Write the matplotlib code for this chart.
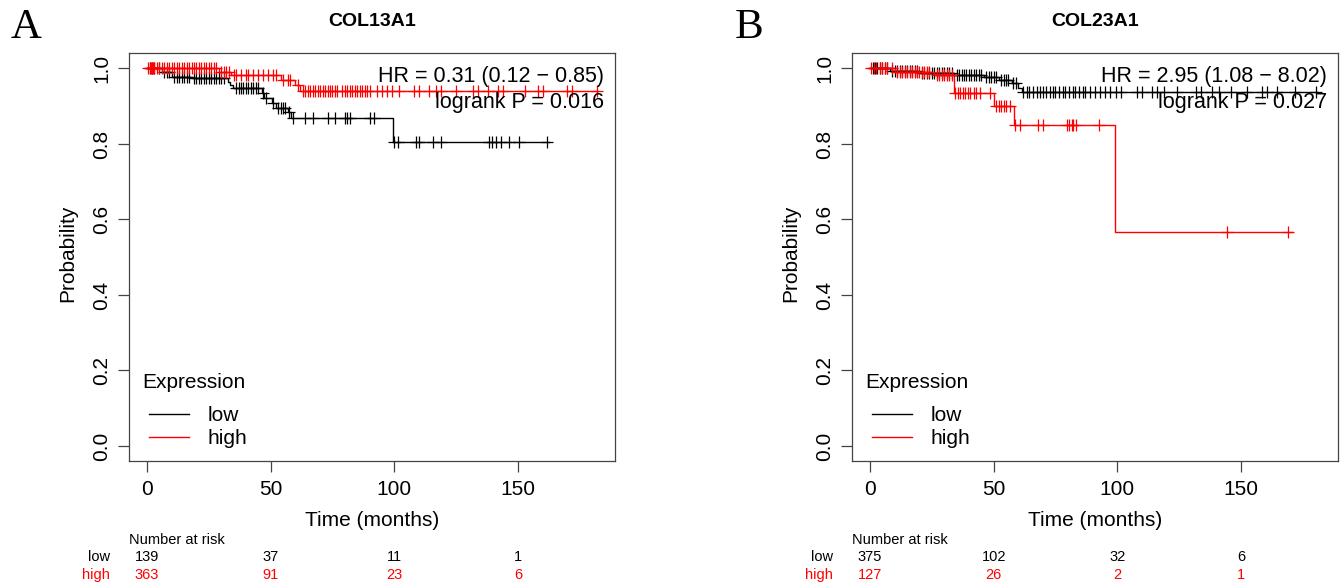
import numpy as np
import matplotlib
matplotlib.use("Agg")
import matplotlib.pyplot as plt
from matplotlib.transforms import blended_transform_factory

plt.rcParams['font.family'] = ['Liberation Sans', 'DejaVu Sans']

# ---- data ----
genes = ['COL13A1', 'COL23A1']
letters = ['A', 'B']
hr_text = ['HR = 0.31 (0.12 \u2212 0.85)', 'HR = 2.95 (1.08 \u2212 8.02)']
p_text = ['logrank P = 0.016', 'logrank P = 0.027']
risk_times = [0, 50, 100, 150]

# panel A, low expression (black)
a_low_t = [0, 6, 10, 18, 32.6, 33.5, 34.6, 46.3, 47.5, 50.4, 52, 57, 58.4, 99.3]
a_low_s = [1.0, 0.99, 0.978, 0.974, 0.965, 0.956, 0.948, 0.934, 0.921, 0.908, 0.896, 0.886, 0.869, 0.805]
a_low_end = 162.5
a_low_cens = [1, 2, 3, 5, 7, 8, 9, 11, 12, 13, 14, 15, 16, 17, 19, 20, 21, 22, 23, 24, 25, 26,
              27, 28, 29, 30, 31, 36, 37, 38, 39, 40, 41, 42, 43, 44, 45, 47, 48, 51, 53, 54,
              55, 56, 57.5, 59, 64, 67, 73, 76, 80, 81, 82, 90, 92, 100, 101.4, 109, 110,
              115.5, 119, 138.4, 139.6, 141, 143, 146.4, 150.4, 161.7]
a_low_risk = [139, 37, 11, 1]

# panel A, high expression (red)
a_high_t = [0, 29, 34, 54, 60, 62]
a_high_s = [1.0, 0.992, 0.983, 0.97, 0.956, 0.94]
a_high_end = 182.5
a_high_cens = [0.5, 1, 1.5, 2, 2.5, 3, 4, 5, 6, 7, 8, 9, 10, 11, 12, 13, 14, 15, 16, 17, 18,
               19, 20, 21, 22, 23, 24, 25, 26, 27, 28, 30, 31, 32, 33, 35, 36, 38, 40, 41, 43,
               45, 47, 49, 51, 52, 55, 57, 58, 61, 63, 64, 65, 66, 67, 68, 69, 70, 71, 72, 73,
               74, 75, 76, 77, 79, 80, 81, 82, 83, 84, 85, 86, 87, 88, 89, 90, 93, 95, 97, 99,
               102, 108, 110, 114, 117, 119, 125, 132, 134, 138, 142, 144, 153, 158, 160, 170,
               172, 182]
a_high_risk = [363, 91, 23, 6]

# panel B, low expression (black)
b_low_t = [0, 8, 20, 34, 46, 52, 57.4, 60, 61.4]
b_low_s = [1.0, 0.993, 0.988, 0.983, 0.977, 0.97, 0.961, 0.948, 0.937]
b_low_end = 181.4
b_low_cens = [1, 2, 3, 4, 5, 6, 7, 9, 10, 11, 12, 13, 14, 15, 16, 17, 18, 19, 21, 22, 23, 24,
              25, 26, 27, 28, 29, 30, 31, 32, 33, 35, 36, 37, 38, 39, 40, 41, 42, 43, 44, 45,
              47, 48, 49, 50, 51, 53, 54, 55, 56, 58, 59, 62, 63.4, 64.5, 66.1, 67.5, 68.8,
              70, 71, 72.8, 74, 75, 76.5, 78, 79, 80.5, 82, 83, 84.5, 86, 87, 89, 91, 93, 95,
              97, 99.6, 101.6, 108, 110, 114, 116, 119, 124.3, 131.9, 133.9, 138.4, 141, 146,
              152.5, 158.5, 160.5, 164.6, 172, 180.6]
b_low_risk = [375, 102, 32, 6]

# panel B, high expression (red)
b_high_t = [0, 10, 26, 33.8, 50.1, 58.2, 99.2]
b_high_s = [1.0, 0.991, 0.984, 0.936, 0.90, 0.85, 0.567]
b_high_end = 170.6
b_high_cens = [0.5, 1.5, 2.5, 4, 5, 6, 7, 9, 11, 12, 13, 14, 15, 16, 17, 18, 19, 20, 21, 22,
               23, 24, 27, 28, 29, 30, 31, 32, 33, 34.5, 35.5, 36.5, 37.5, 38.5, 39.5, 40.5,
               42, 43, 44.5, 48.5, 51, 52, 53, 54, 55, 56.5, 58.5, 60.7, 68.1, 70.1, 79.5,
               80.5, 81.5, 82.2, 83.5, 92.6, 144.5, 169]
b_high_risk = [127, 26, 2, 1]

panels = [
    dict(low=(a_low_t, a_low_s, a_low_end, a_low_cens, a_low_risk),
         high=(a_high_t, a_high_s, a_high_end, a_high_cens, a_high_risk)),
    dict(low=(b_low_t, b_low_s, b_low_end, b_low_cens, b_low_risk),
         high=(b_high_t, b_high_s, b_high_end, b_high_cens, b_high_risk)),
]

fig = plt.figure(figsize=(13.43, 5.83), dpi=100)
W, H = 1343.0, 583.0
lefts = [129, 852]
ax_w, ax_top, ax_bot = 486, 53.4, 461

frame_col = '#444444'

for i, p in enumerate(panels):
    ax = fig.add_axes([lefts[i] / W, 1 - ax_bot / H, ax_w / W, (ax_bot - ax_top) / H])
    handles = []
    for key, col in (('low', 'black'), ('high', 'red')):
        t, s, end, cens, risk = p[key]
        t = np.array(t, dtype=float)
        s = np.array(s, dtype=float)
        ln, = ax.step(np.r_[t, end], np.r_[s, s[-1]], where='post', color=col, lw=1.0,
                      label=key)
        handles.append(ln)
        c = np.array(cens, dtype=float)
        cs = s[np.searchsorted(t, c, side='right') - 1]
        ax.plot(c, cs, ls='none', marker='+', ms=8, mew=0.9, color=col)

    ax.set_xlim(-7.3, 189.3)
    ax.set_ylim(-0.04, 1.04)
    ax.set_xticks(risk_times)
    ax.set_yticks([0, 0.2, 0.4, 0.6, 0.8, 1.0])
    ax.set_yticklabels(['0.0', '0.2', '0.4', '0.6', '0.8', '1.0'])
    ax.tick_params(axis='both', direction='out', length=8, width=0.9, color=frame_col,
                   labelsize=15)
    ax.tick_params(axis='x', pad=6)
    ax.tick_params(axis='y', pad=5, labelrotation=90)
    for lab in ax.get_yticklabels():
        lab.set_va('center')
    for sp in ax.spines.values():
        sp.set_color(frame_col)
        sp.set_linewidth(0.9)

    ax.text(0.5, -0.145, 'Time (months)', transform=ax.transAxes, ha='center', va='center',
            fontsize=15)
    ax.text(-0.1255, 0.51, 'Probability', transform=ax.transAxes, ha='center', va='center',
            rotation=90, fontsize=15)
    ax.text(0.5, 1.078, genes[i], transform=ax.transAxes, ha='center', va='center',
            fontsize=14, fontweight='bold')
    fig.text((lefts[i] - 103) / W, 1 - 28 / H, letters[i], ha='center', va='center',
             fontsize=31, family=['Liberation Serif', 'DejaVu Serif'])

    ax.text(0.977, 0.944, hr_text[i], transform=ax.transAxes, ha='right', va='center',
            fontsize=15.5)
    ax.text(0.977, 0.879, p_text[i], transform=ax.transAxes, ha='right', va='center',
            fontsize=15.5)

    # legend: title drawn on its own so the gap to the entries matches
    ax.text(0.027, 0.1916, 'Expression', transform=ax.transAxes, ha='left', va='center',
            fontsize=15)
    ax.legend(handles=handles, labels=['low', 'high'], loc='lower left',
              bbox_to_anchor=(0.0115, -0.005), frameon=False, fontsize=15,
              handlelength=1.9, handletextpad=0.9, labelspacing=0.2, borderpad=0.2)

    # number at risk table
    tr = blended_transform_factory(ax.transData, ax.transAxes)
    ax.text(0.0, -0.194, 'Number at risk', transform=ax.transAxes, ha='left', va='center',
            fontsize=10.5)
    for key, col, yy in (('low', 'black', -0.2355), ('high', 'red', -0.2797)):
        risk = p[key][4]
        ax.text(-15, yy, key, transform=tr, ha='right', va='center', fontsize=10.5,
                color=col, clip_on=False)
        for tt, n in zip(risk_times, risk):
            ax.text(tt, yy, str(n), transform=tr, ha='center', va='center', fontsize=10.5,
                    color=col, clip_on=False)

fig.savefig('out.png', dpi=100)
